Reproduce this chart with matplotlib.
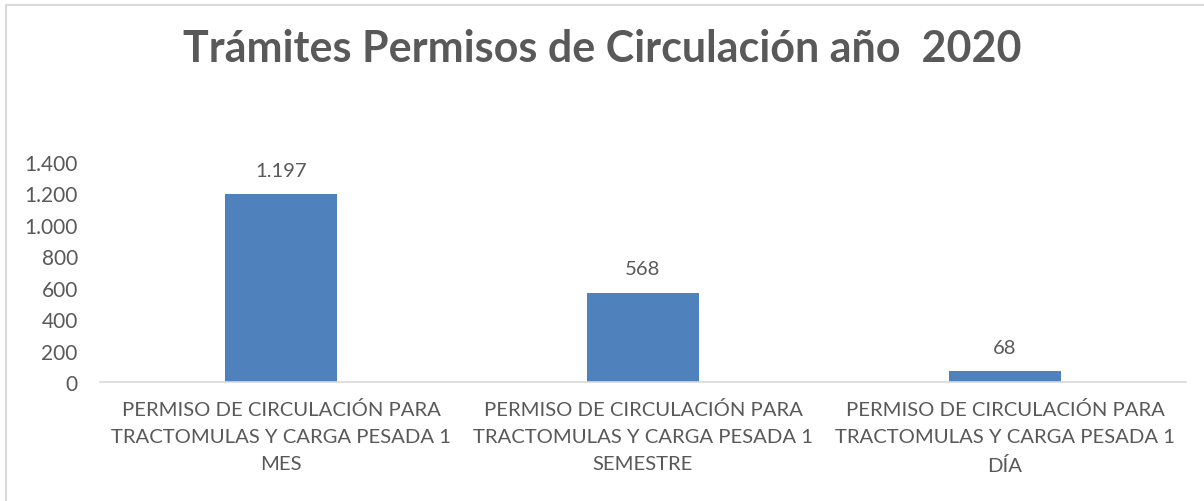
import matplotlib.pyplot as plt
from matplotlib.ticker import FuncFormatter, MultipleLocator
from matplotlib.patches import Rectangle

# Datos del gráfico
categorias = [
    "PERMISO DE CIRCULACIÓN PARA\nTRACTOMULAS Y CARGA PESADA 1\nMES",
    "PERMISO DE CIRCULACIÓN PARA\nTRACTOMULAS Y CARGA PESADA 1\nSEMESTRE",
    "PERMISO DE CIRCULACIÓN PARA\nTRACTOMULAS Y CARGA PESADA 1\nDÍA",
]
tramites = [1197, 568, 68]
titulo = "Trámites Permisos de Circulación año  2020"

gris = "#595959"
azul = "#4f81bd"

plt.rcParams['font.family'] = ['Lato', 'DejaVu Sans']


def miles(v, pos=None):
    # separador de miles con punto
    return f"{int(v):,}".replace(",", ".")


fig = plt.figure(figsize=(12.04, 5.02), dpi=100)
# borde del área del gráfico
fig.patches.append(Rectangle((6 / 1204, -0.1), 1.2, (502 - 6) / 502 + 0.1,
                             transform=fig.transFigure, fill=False,
                             edgecolor="#d9d9d9", linewidth=1.5))

ax = fig.add_axes([100 / 1204, 1 - 383 / 502, 1086 / 1204, 220 / 502])
x = range(len(categorias))
barras = ax.bar(x, tramites, width=0.31, color=azul)

ax.set_xlim(-0.5, len(categorias) - 0.5)
ax.set_ylim(0, 1400)
ax.yaxis.set_major_locator(MultipleLocator(200))
ax.yaxis.set_major_formatter(FuncFormatter(miles))

for b, v in zip(barras, tramites):
    ax.annotate(miles(v), (b.get_x() + b.get_width() / 2, v),
                xytext=(0, 11), textcoords="offset points",
                ha="center", va="bottom", fontsize=14.6, color=gris)

ax.set_xticks(list(x))
ax.set_xticklabels(categorias, fontsize=14.6, color=gris, linespacing=1.72)
ax.tick_params(axis="y", labelsize=15, labelcolor=gris, length=0, pad=16)
ax.tick_params(axis="x", length=0, pad=13)

for lado in ["top", "right", "left"]:
    ax.spines[lado].set_visible(False)
ax.spines["bottom"].set_color("#d9d9d9")
ax.spines["bottom"].set_linewidth(1.2)

fig.text(0.5, 1 - 49 / 502, titulo, ha="center", va="center",
         fontsize=31, fontweight="bold", color=gris)

fig.savefig("out.png", dpi=100)
